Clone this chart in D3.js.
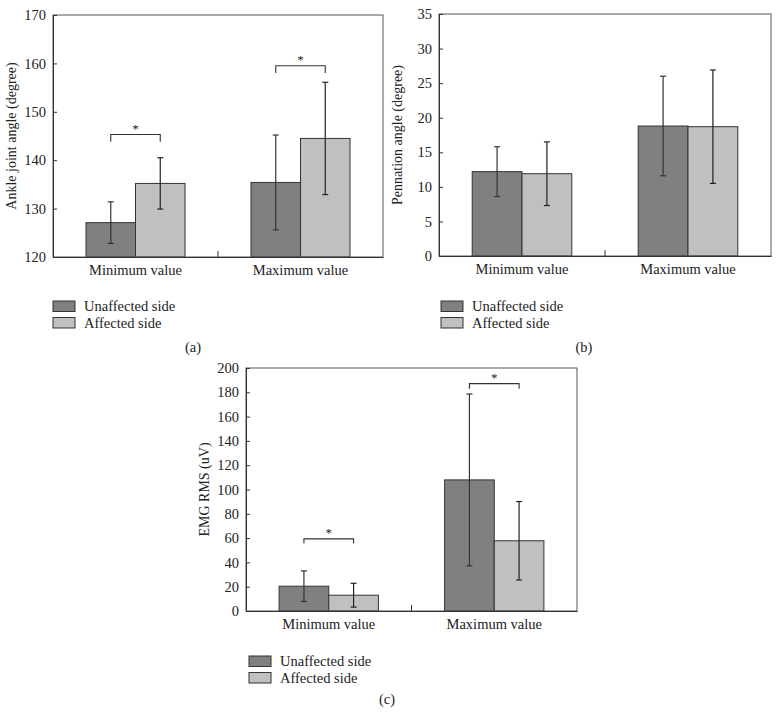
<!DOCTYPE html>
<html>
<head>
<meta charset="utf-8">
<script src="https://cdn.jsdelivr.net/npm/d3@7"></script>
<style>
  html, body { margin: 0; padding: 0; background: #fff; }
  text { font-family: "Liberation Serif", "DejaVu Serif", serif; fill: #222; }
</style>
</head>
<body>
<svg id="chart" width="779" height="727"></svg>
<script>
// ---- data ----
const categories = ["Minimum value", "Maximum value"];
const series = ["Unaffected side", "Affected side"];
const seriesColors = ["#808080", "#c0c0c0"];

// Panel (a): Ankle joint angle
const ankleMeans   = [[127.1, 135.2], [135.4, 144.5]];
const ankleErrors  = [[4.3, 5.3], [9.8, 11.6]];
const ankleTicks   = [120, 130, 140, 150, 160, 170];
const ankleSig     = [[0, 145.3, 143.8], [1, 159.5, 158.0]];

// Panel (b): Pennation angle
const pennMeans    = [[12.2, 11.9], [18.8, 18.7]];
const pennErrors   = [[3.6, 4.6], [7.2, 8.2]];
const pennTicks    = [0, 5, 10, 15, 20, 25, 30, 35];
const pennSig      = [];

// Panel (c): EMG RMS
const emgMeans     = [[20.4, 13.0], [107.9, 57.8]];
const emgErrors    = [[12.6, 9.8], [70.7, 32.3]];
const emgTicks     = [0, 20, 40, 60, 80, 100, 120, 140, 160, 180, 200];
const emgSig       = [[0, 59.4, 55.5], [1, 187.1, 183.0]];

const svg = d3.select("#chart");
const FS = 14.5;

function drawPanel(cfg) {
  const g = svg.append("g");
  const y = d3.scaleLinear().domain(cfg.domain).range([cfg.bottom, cfg.top]);
  const x = d3.scaleBand().domain(categories).range([cfg.left, cfg.right]).padding(0);
  const xs = d3.scaleBand().domain(series)
    .range([x.bandwidth() * 0.2, x.bandwidth() * 0.8]).padding(0);

  // bars
  categories.forEach((c, ci) => {
    series.forEach((s, si) => {
      const v = cfg.means[ci][si];
      g.append("rect")
        .attr("x", x(c) + xs(s))
        .attr("y", y(v))
        .attr("width", xs.bandwidth())
        .attr("height", y(cfg.domain[0]) - y(v))
        .attr("fill", seriesColors[si])
        .attr("stroke", "#333")
        .attr("stroke-width", 1);
    });
  });
  // error bars
  categories.forEach((c, ci) => {
    series.forEach((s, si) => {
      const v = cfg.means[ci][si], e = cfg.errors[ci][si];
      const cx = x(c) + xs(s) + xs.bandwidth() / 2;
      const eg = g.append("g").attr("stroke", si === 0 ? "#333" : "#222").attr("stroke-width", 1.2);
      eg.append("line").attr("x1", cx).attr("x2", cx).attr("y1", y(v + e)).attr("y2", y(v - e));
      [v + e, v - e].forEach(t => {
        eg.append("line").attr("x1", cx - 3).attr("x2", cx + 3).attr("y1", y(t)).attr("y2", y(t));
      });
    });
  });

  // frame
  g.append("rect")
    .attr("x", cfg.left).attr("y", cfg.top)
    .attr("width", cfg.right - cfg.left).attr("height", cfg.bottom - cfg.top)
    .attr("fill", "none").attr("stroke", "#555").attr("stroke-width", 1);

  // y axis (ticks pointing inward)
  const yAxis = d3.axisLeft(y).tickValues(cfg.ticks).tickSize(-4).tickPadding(7)
    .tickFormat(d3.format("d"));
  const ya = g.append("g").attr("transform", `translate(${cfg.left},0)`).call(yAxis);
  ya.select(".domain").attr("stroke", "#333");
  ya.selectAll(".tick line").attr("stroke", "#333");
  ya.selectAll(".tick text").attr("font-size", FS).attr("font-family", "Liberation Serif").attr("fill", "#222");

  // x axis: category labels, inner tick between groups
  const xAxis = d3.axisBottom(x).tickSize(0).tickPadding(8);
  const xa = g.append("g").attr("transform", `translate(0,${cfg.bottom})`).call(xAxis);
  xa.select(".domain").attr("stroke", "#333");
  xa.selectAll(".tick text").attr("font-size", FS).attr("font-family", "Liberation Serif").attr("fill", "#222");
  const midX = x(categories[1]);
  g.append("line").attr("x1", midX).attr("x2", midX)
    .attr("y1", cfg.bottom).attr("y2", cfg.bottom - 6)
    .attr("stroke", "#333");

  // y label
  g.append("text")
    .attr("transform", `translate(${cfg.left - 37},${(cfg.top + cfg.bottom) / 2}) rotate(-90)`)
    .attr("text-anchor", "middle")
    .attr("font-size", 14)
    .text(cfg.ylabel);

  // significance brackets
  cfg.sig.forEach(([ci, yv, yEnd]) => {
    const c = categories[ci];
    const x1 = x(c) + xs(series[0]) + xs.bandwidth() / 2;
    const x2 = x(c) + xs(series[1]) + xs.bandwidth() / 2;
    g.append("path")
      .attr("d", `M${x1},${y(yEnd)}V${y(yv)}H${x2}V${y(yEnd)}`)
      .attr("fill", "none").attr("stroke", "#333").attr("stroke-width", 1.1);
    g.append("text")
      .attr("x", (x1 + x2) / 2).attr("y", y(yv) - 2)
      .attr("text-anchor", "middle").attr("font-size", 13)
      .text("*");
  });

  // legend
  series.forEach((s, si) => {
    const ly = cfg.legendY + si * 16.5;
    g.append("rect")
      .attr("x", cfg.legendX).attr("y", ly)
      .attr("width", 22).attr("height", 10.5)
      .attr("fill", seriesColors[si]).attr("stroke", "#333").attr("stroke-width", 1);
    g.append("text")
      .attr("x", cfg.legendX + 31).attr("y", ly + 10)
      .attr("font-size", FS)
      .text(s);
  });

  // panel caption
  g.append("text")
    .attr("x", cfg.captionX).attr("y", cfg.captionY)
    .attr("text-anchor", "middle").attr("font-size", FS)
    .text(cfg.caption);
}

drawPanel({
  left: 53, right: 383, top: 15, bottom: 257,
  domain: [120, 170], ticks: ankleTicks,
  means: ankleMeans, errors: ankleErrors, sig: ankleSig,
  ylabel: "Ankle joint angle (degree)",
  legendX: 53, legendY: 301, caption: "(a)", captionX: 193, captionY: 352
});
drawPanel({
  left: 439, right: 771, top: 14, bottom: 256,
  domain: [0, 35], ticks: pennTicks,
  means: pennMeans, errors: pennErrors, sig: pennSig,
  ylabel: "Pennation angle (degree)",
  legendX: 441, legendY: 301, caption: "(b)", captionX: 584, captionY: 352
});
drawPanel({
  left: 246, right: 577, top: 368, bottom: 611,
  domain: [0, 200], ticks: emgTicks,
  means: emgMeans, errors: emgErrors, sig: emgSig,
  ylabel: "EMG RMS (uV)",
  legendX: 249, legendY: 656, caption: "(c)", captionX: 387, captionY: 704
});
</script>
</body>
</html>
